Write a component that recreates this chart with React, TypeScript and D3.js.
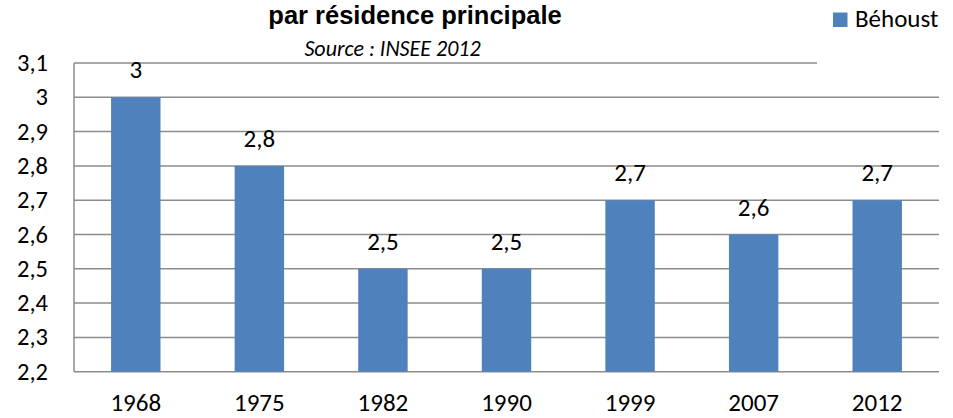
import React from "react";
import * as d3 from "d3";

const categories = ["1968", "1975", "1982", "1990", "1999", "2007", "2012"];
const values = [3, 2.8, 2.5, 2.5, 2.7, 2.6, 2.7];
const yTicks = [2.2, 2.3, 2.4, 2.5, 2.6, 2.7, 2.8, 2.9, 3.0, 3.1];
const seriesName = "Béhoust";
const titleText = "par résidence principale";
const sourceText = "Source : INSEE 2012";

const fmt = (v: number) => String(Math.round(v * 10) / 10).replace(".", ",");

export default function App() {
  const W = 953, H = 418;
  const left = 74, right = 939, top = 63, bottom = 371.7;
  const x = d3.scaleBand().domain(categories).range([left, right]).paddingInner(0.6).paddingOuter(0.3);
  const y = d3.scaleLinear().domain([2.2, 3.1]).range([bottom, top]);
  const font = "Carlito, Calibri, 'Open Sans', sans-serif";
  return (
    <svg width={W} height={H} style={{ position: "absolute", left: 0, top: 0, background: "#fff" }}>
      {yTicks.map((t, i) => (
        <g key={i}>
          <line x1={left} x2={i === yTicks.length - 1 ? 817 : right} y1={y(t)} y2={y(t)} stroke="#8c8c8c" strokeWidth={1.5} />
          <text x={48} y={y(t)} dy="0.33em" textAnchor="end" fontSize={24.5} fontFamily={font} fill="#000">{fmt(t)}</text>
        </g>
      ))}
      <line x1={left} x2={left} y1={top} y2={bottom} stroke="#8c8c8c" strokeWidth={1.5} />
      {categories.map((c, i) => (
        <g key={c}>
          <rect x={x(c)!} width={x.bandwidth()} y={y(values[i])} height={bottom - y(values[i])} fill="#4F81BD" />
          <text x={x(c)! + x.bandwidth() / 2} y={y(values[i]) - 19} textAnchor="middle" fontSize={25} fontFamily={font}>{fmt(values[i])}</text>
          <text x={x(c)! + x.bandwidth() / 2} y={411} textAnchor="middle" fontSize={25} fontFamily={font}>{c}</text>
        </g>
      ))}
      <text x={415} y={23.5} textAnchor="middle" fontSize={25.5} fontWeight="bold" fontFamily="'Liberation Sans Narrow', 'Arial Narrow', sans-serif">{titleText}</text>
      <text x={392.5} y={56} textAnchor="middle" fontSize={22} fontStyle="italic" fontFamily={font}>{sourceText}</text>
      <rect x={833} y={12.5} width={14.5} height={14.5} fill="#4F81BD" />
      <text x={855} y={27} fontSize={25} fontFamily={font}>{seriesName}</text>
    </svg>
  );
}
